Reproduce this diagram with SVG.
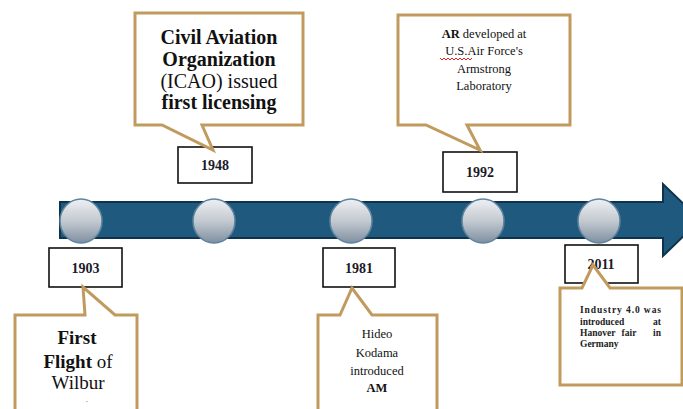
<svg xmlns="http://www.w3.org/2000/svg" width="683" height="409" viewBox="0 0 683 409">
<defs>
<linearGradient id="ball" x1="0" y1="0" x2="0" y2="1">
<stop offset="0" stop-color="#eef0f3"/>
<stop offset="0.5" stop-color="#c3c9d0"/>
<stop offset="1" stop-color="#7f8fa0"/>
</linearGradient>
<style>
text{font-family:"Liberation Serif","Times New Roman",Times,serif}
.call{fill:#fff;stroke:#c19a5e;stroke-width:3;stroke-linejoin:miter}
.yr{fill:#fff;stroke:#111;stroke-width:1.6}
.yt{font-size:14px;font-weight:bold;fill:#1a1a2a;text-anchor:middle}
.big{font-size:20px;fill:#111;text-anchor:middle}
.ff{font-size:19px;fill:#111;text-anchor:middle}
.sm{font-size:12.5px;fill:#111;text-anchor:middle}
.tiny{font-size:9.5px;font-weight:bold;fill:#222}
.r{text-anchor:end}
.m{text-anchor:middle}
.b{font-weight:bold}
.dot{fill:url(#ball);stroke:#5d84a0;stroke-width:1.5}
</style>
</defs>
<rect width="683" height="409" fill="#fff"/>
<g id="connectors">
<path d="M60,202 H663 V184 L700,220 L663,256 V238 H60 Z" fill="#1f5a7e" stroke="#0f334d" stroke-width="2"/>
</g>
<g id="markers">
<ellipse class="dot" cx="81" cy="221" rx="21" ry="22"/>
<ellipse class="dot" cx="214" cy="221" rx="21" ry="22"/>
<ellipse class="dot" cx="351" cy="221" rx="21" ry="22"/>
<ellipse class="dot" cx="483" cy="221" rx="21" ry="22"/>
<ellipse class="dot" cx="599" cy="221" rx="21" ry="22"/>
</g>
<g id="y1903"><rect class="yr" x="49" y="248" width="73" height="39"/><text class="yt" x="85.5" y="273">1903</text></g>
<g id="y1948"><rect class="yr" x="178" y="147" width="74" height="36"/><text class="yt" x="215" y="170">1948</text></g>
<g id="y1981"><rect class="yr" x="323" y="248" width="72" height="39"/><text class="yt" x="359" y="273">1981</text></g>
<g id="y1992"><rect class="yr" x="443" y="152" width="74" height="40"/><text class="yt" x="480" y="177">1992</text></g>
<g id="y2011"><rect class="yr" x="565" y="245" width="73" height="38"/><text class="yt" x="601" y="269">2011</text></g>
<g id="c1948">
<path class="call" d="M135,13 H303 V125 H202 L213,150 L162,125 H135 Z"/>
<text class="big b" x="219" y="44">Civil Aviation</text>
<text class="big b" x="219" y="66">Organization</text>
<text class="big" x="219" y="88">(ICAO) issued</text>
<text class="big b" x="219" y="109">first licensing</text>
</g>
<g id="c1992">
<path class="call" d="M398,15 H570 V125 H467 L480,150 L426,125 H398 Z"/>
<text class="sm" x="484" y="38"><tspan class="b">AR</tspan> developed at</text>
<text class="sm" x="484" y="55">U.S.Air Force's</text>
<text class="sm" x="484" y="73">Armstrong</text>
<text class="sm" x="484" y="90">Laboratory</text>
<path d="M440,58 l2,2 2,-2 2,2 2,-2 2,2 2,-2 2,2 2,-2 2,2 2,-2 2,2 2,-2 2,2 2,-2 2,2 2,-2" fill="none" stroke="#e02020" stroke-width="1"/>
</g>
<g id="c1903">
<path class="call" d="M15,315 H85 L83,287 L115,315 H137 V412 H15 Z"/>
<text class="ff b" x="77" y="344">First</text>
<text class="ff" x="78" y="368"><tspan class="b">Flight</tspan> of</text>
<text class="ff" x="78" y="389">Wilbur</text>
<text x="86" y="402" font-size="7" fill="#111">.</text>
</g>
<g id="c1981">
<path class="call" d="M318,315 H340 L352,288 L372,315 H437 V412 H318 Z"/>
<text class="sm" x="377" y="338">Hideo</text>
<text class="sm" x="377" y="357">Kodama</text>
<text class="sm" x="377" y="375">introduced</text>
<text class="sm b" x="377" y="392">AM</text>
</g>
<g id="c2011">
<path class="call" d="M560,288 H582 L593,265 L610,288 H682 V385 H560 Z"/>
<text class="tiny" x="580" y="313" textLength="81" lengthAdjust="spacing">Industry 4.0 was</text>
<text class="tiny" x="580" y="325">introduced</text>
<text class="tiny r" x="661" y="325">at</text>
<text class="tiny" x="580" y="336">Hanover</text>
<text class="tiny m" x="629" y="336">fair</text>
<text class="tiny r" x="661" y="336">in</text>
<text class="tiny" x="580" y="347">Germany</text>
</g>
</svg>
